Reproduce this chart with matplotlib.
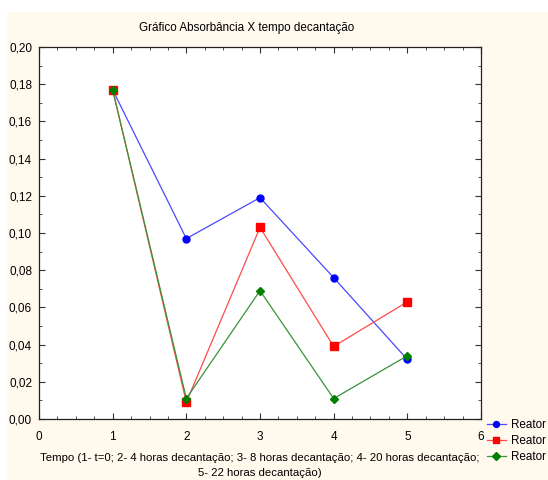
import matplotlib.pyplot as plt
from matplotlib.patches import Rectangle
from matplotlib.ticker import MultipleLocator, FuncFormatter

plt.rcParams['font.family'] = ['Liberation Sans', 'DejaVu Sans']

# data
tempo = [1, 2, 3, 4, 5]
reator_azul = [0.177, 0.097, 0.119, 0.076, 0.032]
reator_verm = [0.177, 0.009, 0.103, 0.039, 0.063]
reator_verde = [0.177, 0.011, 0.069, 0.011, 0.034]
labels = ["Reator", "Reator", "Reator"]

W, H = 548, 480
fig = plt.figure(figsize=(W / 100, H / 100), dpi=100)
fig.patch.set_facecolor("white")
fig.patches.append(Rectangle((7 / W, 0), 1, 1 - 12 / H, transform=fig.transFigure,
                             facecolor="#fff9ee", edgecolor="none", zorder=-10))

# axes frame: x 39..481, y 47..419 (pixels)
ax = fig.add_axes([39 / W, 1 - 419 / H, (481 - 39) / W, (419 - 47) / H])
ax.set_facecolor("white")

ax.plot(tempo, reator_azul, color="#4a4aff", lw=0.9, marker="o", ms=5,
        mfc="blue", mec="blue", label=labels[0])
ax.plot(tempo, reator_verm, color="#ff4a4a", lw=0.9, marker="s", ms=5.5,
        mfc="red", mec="red", label=labels[1])
ax.plot(tempo, reator_verde, color="#3a913a", lw=0.9, marker="D", ms=4.5,
        mfc="green", mec="green", label=labels[2])

ax.set_xlim(0, 6)
ax.set_ylim(0, 0.20)
ax.xaxis.set_major_locator(MultipleLocator(1))
ax.xaxis.set_minor_locator(MultipleLocator(0.25))
ax.yaxis.set_major_locator(MultipleLocator(0.02))
ax.yaxis.set_minor_locator(MultipleLocator(0.01))
ax.yaxis.set_major_formatter(FuncFormatter(lambda v, p: f"{v:.2f}".replace(".", ",")))
ax.tick_params(which="both", direction="in", top=True, right=True, labelsize=8.5,
               color="#333333")
ax.tick_params(which="major", length=4, pad=5)
ax.tick_params(axis="x", which="major", pad=9)
ax.tick_params(which="minor", length=2)
for s in ax.spines.values():
    s.set_linewidth(0.9)
    s.set_color("#222222")

fig.text(247 / W, 1 - 28 / H, "Gráfico Absorbância X tempo decantação",
         fontsize=8.4, ha="center", va="center")
ax.set_xlabel("Tempo (1- t=0; 2- 4 horas decantação; 3- 8 horas decantação; 4- 20 horas decantação;\n"
              "5- 22 horas decantação)", fontsize=8.2, labelpad=7, linespacing=1.6)

ax.legend(loc="upper left", bbox_to_anchor=(487 / W, 1 - 419 / H),
          bbox_transform=fig.transFigure, frameon=False, fontsize=8.4,
          handlelength=1.6, handletextpad=0.45, labelspacing=0.35, borderpad=0,
          borderaxespad=0, markerscale=0.85)

fig.savefig("out.png", dpi=100, facecolor=fig.get_facecolor())
